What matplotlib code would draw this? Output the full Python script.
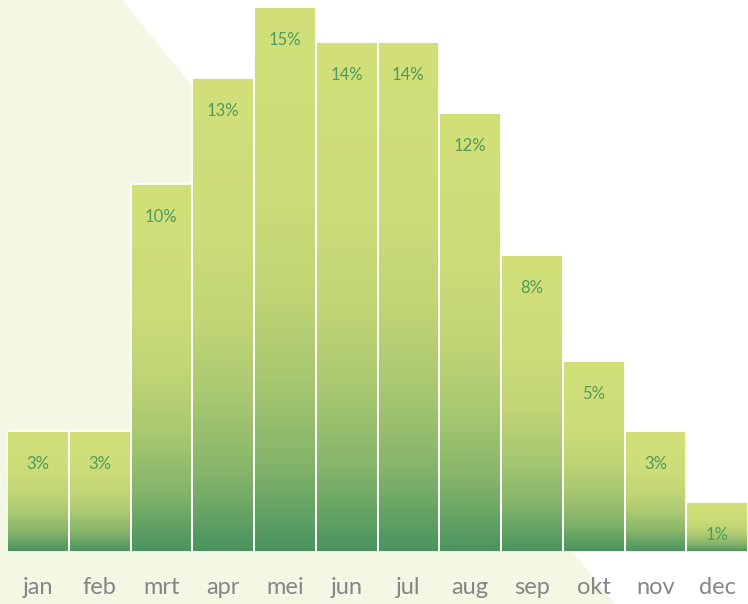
import numpy as np
import matplotlib.pyplot as plt
from matplotlib.colors import LinearSegmentedColormap
from matplotlib.patches import Polygon

# data
months = ["jan", "feb", "mrt", "apr", "mei", "jun", "jul", "aug", "sep", "okt", "nov", "dec"]
share = [3, 3, 10, 13, 15, 14, 14, 12, 8, 5, 3, 1]
labels = [f"{v}%" for v in share]

# bar gradient: dark green at the bottom, yellow-green at the top
cmap = LinearSegmentedColormap.from_list(
    "bar", [(0.0, "#4a9360"), (0.08, "#66a464"), (0.16, "#84b46a"), (0.32, "#a8c871"),
            (0.48, "#c0d575"), (0.65, "#cbdc78"), (1.0, "#d3e07a")]
)

fig = plt.figure(figsize=(7.48, 6.04), dpi=100)
W, H = 748, 604

# pale green background wedge
wedge = Polygon([(0, 1), (122 / W, 1), (615 / W, 0), (0, 0)], closed=True,
                transform=fig.transFigure, facecolor="#f2f8e4", edgecolor="none", zorder=-1)
fig.patches.append(wedge)

ax = fig.add_axes([7 / W, (H - 552) / H, 741 / W, 552 / H])
ax.set_zorder(2)
ax.patch.set_visible(False)
y0, y1 = -0.413, 15.198

x = np.arange(len(months))
bars = ax.bar(x, [v - y0 for v in share], bottom=y0, width=1.0,
              facecolor="none", edgecolor="white", linewidth=1.3, zorder=3)

grad = np.linspace(0, 1, 256).reshape(-1, 1)
for b in bars:
    bx, by = b.get_x(), b.get_y()
    bw, bh = b.get_width(), b.get_height()
    im = ax.imshow(grad, cmap=cmap, origin="lower", aspect="auto",
                   extent=(bx, bx + bw, by, by + bh), zorder=2)
    im.set_clip_path(b)

ax.set_xlim(-0.5, len(months) - 0.5)
ax.set_ylim(y0, y1)

for xi, v, lab in zip(x, share, labels):
    ax.annotate(lab, (xi, v), xytext=(0, -33), textcoords="offset pixels",
                ha="center", va="center", fontsize=12, color="#4f9a5c",
                family="Lato", zorder=4)

for xi, m in zip(x, months):
    ax.annotate(m, (xi, y0), xytext=(0, -36), textcoords="offset pixels",
                ha="center", va="center", fontsize=17, color="#868686",
                family="Lato", annotation_clip=False)

for s in ax.spines.values():
    s.set_visible(False)
ax.set_xticks([])
ax.set_yticks([])

fig.savefig("out.png", dpi=100)
